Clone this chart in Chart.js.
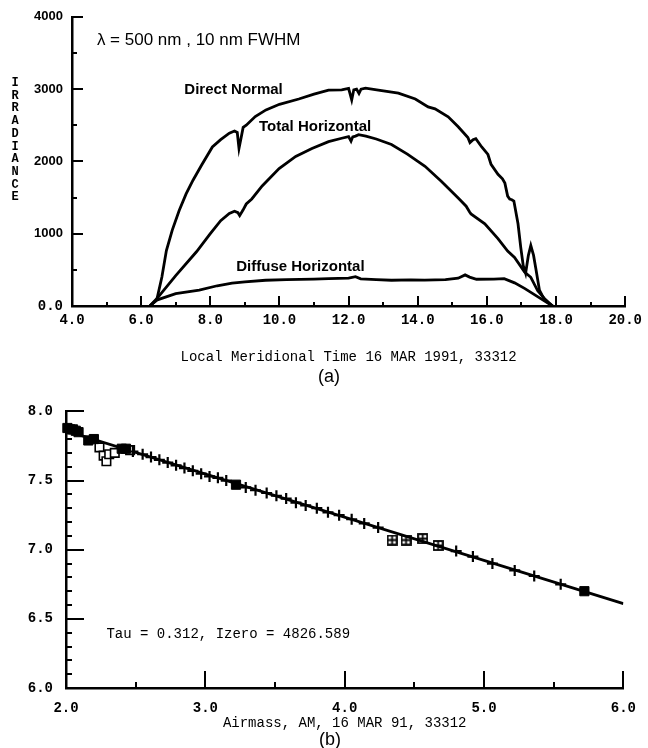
<!DOCTYPE html>
<html>
<head>
<meta charset="utf-8">
<script src="https://cdn.jsdelivr.net/npm/chart.js@4.4.1/dist/chart.umd.min.js"></script>
<style>
  body { margin: 0; background: #fff; }
  #wrapA { position: absolute; left: 0; top: 0; }
  #wrapB { position: absolute; left: 0; top: 390px; }
</style>
</head>
<body>
<div id="wrapA"><canvas id="chartA" width="648" height="390"></canvas></div>
<div id="wrapB"><canvas id="chartB" width="648" height="358"></canvas></div>
<script>
// ---- (a) irradiance vs local time ----
const timeTicks = [4, 6, 8, 10, 12, 14, 16, 18, 20];
const timeMinor = [5, 7, 9, 11, 13, 15, 17, 19];
const irrTicks = [0, 1000, 2000, 3000, 4000];
const irrMinor = [500, 1500, 2500, 3500];

const directTime = [6.25, 6.45, 6.6, 6.73, 6.9, 7.1, 7.3, 7.5, 7.75, 8.06, 8.3, 8.55, 8.7, 8.78, 8.83, 8.88, 8.95,
  9.04, 9.3, 9.61, 10.0, 10.56, 11.0, 11.42, 11.8, 12.0, 12.09, 12.15, 12.23, 12.3, 12.36, 12.49, 12.86, 13.44,
  13.93, 14.3, 14.5, 14.88, 15.17, 15.45, 15.51, 15.6, 15.68, 15.85, 16.03, 16.12, 16.32, 16.45, 16.52, 16.6,
  16.66, 16.72, 16.78, 16.9, 16.98, 17.05, 17.12, 17.2, 17.27, 17.35, 17.41, 17.52, 17.67, 17.9];
const directIrr = [0, 82, 400, 767, 1050, 1320, 1550, 1740, 1950, 2200, 2300, 2390, 2420, 2400, 2180, 2300, 2470,
  2500, 2620, 2712, 2790, 2863, 2930, 2986, 2990, 3010, 2850, 2990, 3000, 2940, 3000, 3014, 2986, 2945,
  2863, 2753, 2726, 2616, 2479, 2330, 2260, 2300, 2315, 2200, 2096, 1959, 1822, 1760, 1700, 1520,
  1479, 1470, 1452, 1137, 808, 560, 452, 700, 836, 700, 534, 219, 82, 0];

const totalTime = [6.25, 6.45, 7.0, 7.6, 8.0, 8.3, 8.55, 8.7, 8.8, 8.85, 8.95, 9.04, 9.2, 9.5, 9.99, 10.47, 10.94,
  11.42, 11.8, 12.0, 12.07, 12.12, 12.2, 12.29, 12.5, 12.8, 13.24, 13.7, 14.21, 14.68, 15.17, 15.4, 15.5,
  15.54, 15.94, 16.32, 16.6, 16.8, 17.09, 17.27, 17.47, 17.67, 17.9];
const totalIrr = [0, 100, 420, 750, 1000, 1180, 1280, 1310, 1290, 1250, 1330, 1411, 1480, 1660, 1900, 2068, 2178,
  2274, 2320, 2342, 2280, 2340, 2350, 2370, 2350, 2310, 2233, 2100, 1932, 1726, 1493, 1380, 1300,
  1274, 1137, 931, 760, 671, 470, 397, 210, 100, 0];

const diffuseTime = [6.25, 6.45, 7.0, 7.68, 8.2, 8.63, 9.0, 9.6, 10.2, 11.0, 11.42, 12.0, 12.2, 12.35, 12.8, 13.24,
  13.8, 14.2, 14.8, 15.17, 15.37, 15.5, 15.7, 16.2, 16.5, 16.8, 17.1, 17.5, 17.9];
const diffuseIrr = [0, 82, 170, 219, 280, 315, 335, 356, 365, 372, 378, 385, 405, 375, 365, 356,
  360, 358, 365, 384, 430, 400, 370, 372, 378, 320, 240, 120, 0];

// ---- (b) Langley plot ----
const amTicks = [2, 3, 4, 5, 6];
const amMinor = [2.5, 3.5, 4.5, 5.5];
const lnTicks = [6.0, 6.5, 7.0, 7.5, 8.0];
const lnMinor = [6.1, 6.2, 6.3, 6.4, 6.6, 6.7, 6.8, 6.9, 7.1, 7.2, 7.3, 7.4, 7.6, 7.7, 7.8, 7.9];

const plusAM = [2.48, 2.55, 2.61, 2.67, 2.73, 2.79, 2.85, 2.91, 2.97, 3.03, 3.09, 3.15, 3.29, 3.36, 3.44, 3.51,
  3.58, 3.65, 3.72, 3.80, 3.88, 3.96, 4.05, 4.14, 4.24, 4.80, 4.92, 5.06, 5.22, 5.36, 5.55];
const plusLn = [7.71, 7.69, 7.67, 7.65, 7.63, 7.61, 7.59, 7.57, 7.55, 7.53, 7.52, 7.50, 7.45, 7.43, 7.41, 7.39,
  7.37, 7.34, 7.32, 7.30, 7.27, 7.25, 7.22, 7.19, 7.16, 6.99, 6.95, 6.90, 6.85, 6.81, 6.75];
const filledAM = [2.01, 2.03, 2.05, 2.07, 2.09, 2.16, 2.20, 2.40, 2.43, 3.22, 5.72];
const filledLn = [7.88, 7.87, 7.87, 7.86, 7.85, 7.79, 7.80, 7.73, 7.73, 7.47, 6.70];
const openAM = [2.24, 2.27, 2.29, 2.31, 2.35, 2.46];
const openLn = [7.74, 7.68, 7.64, 7.69, 7.70, 7.72];
const boxAM = [4.34, 4.44, 4.56, 4.67];
const boxLn = [7.07, 7.07, 7.08, 7.03];
const fitAM = [2.0, 6.0];
const fitLn = [7.86, 6.61];

function toXY(xs, ys) {
  return xs.map((x, i) => ({ x: x, y: ys[i] }));
}

const SANS = '"Liberation Sans", Arial, sans-serif';
const MONO = '"Liberation Mono", "Courier New", monospace';

// tick marks drawn inward from the axes
const innerTicks = {
  id: 'innerTicks',
  afterDraw(chart, args, opts) {
    const { ctx, chartArea } = chart;
    ctx.save();
    ctx.strokeStyle = '#000';
    ctx.lineWidth = 2;
    opts.marks.forEach(m => {
      const scale = chart.scales[m.axis];
      m.values.forEach(v => {
        const p = Math.round(scale.getPixelForValue(v));
        ctx.beginPath();
        if (m.axis === 'x') {
          ctx.moveTo(p, chartArea.bottom);
          ctx.lineTo(p, chartArea.bottom - m.len);
        } else {
          ctx.moveTo(chartArea.left, p);
          ctx.lineTo(chartArea.left + m.len, p);
        }
        ctx.stroke();
      });
    });
    ctx.restore();
  }
};

// free text labels inside the figure
const notes = {
  id: 'notes',
  afterDraw(chart, args, opts) {
    const ctx = chart.ctx;
    ctx.save();
    ctx.fillStyle = '#000';
    ctx.textBaseline = 'middle';
    opts.items.forEach(n => {
      ctx.font = n.font;
      ctx.textAlign = n.align || 'left';
      const x = n.px != null ? n.px : chart.scales.x.getPixelForValue(n.x);
      const y = n.py != null ? n.py : chart.scales.y.getPixelForValue(n.y);
      ctx.fillText(n.text, x, y);
    });
    ctx.restore();
  }
};

function lineSet(xs, ys) {
  return {
    data: toXY(xs, ys),
    borderColor: '#000',
    borderWidth: 2.8,
    pointRadius: 0,
    tension: 0,
    fill: false
  };
}

const axisBorder = { display: true, color: '#000', width: 2.5 };

// IRRADIANCE written as stacked letters
const irrLetters = 'IRRADIANCE'.split('').map((c, i) => ({
  text: c, px: 15, py: 83 + i * 12.7, font: 'bold 12px ' + MONO, align: 'center'
}));

new Chart(document.getElementById('chartA'), {
  type: 'line',
  data: {
    datasets: [
      lineSet(directTime, directIrr),
      lineSet(totalTime, totalIrr),
      lineSet(diffuseTime, diffuseIrr)
    ]
  },
  options: {
    responsive: false,
    animation: false,
    layout: { padding: { left: 0, top: 14, right: 20, bottom: 0 } },
    plugins: {
      legend: { display: false },
      tooltip: { enabled: false },
      innerTicks: {
        marks: [
          { axis: 'x', values: timeTicks, len: 10 },
          { axis: 'x', values: timeMinor, len: 4 },
          { axis: 'y', values: irrTicks, len: 11 },
          { axis: 'y', values: irrMinor, len: 5 }
        ]
      },
      notes: {
        items: [
          { text: '\u03bb = 500 nm , 10 nm FWHM', x: 4.72, y: 3671, font: '17px ' + SANS },
          { text: 'Direct Normal', x: 7.25, y: 2986, font: 'bold 15px ' + SANS },
          { text: 'Total Horizontal', x: 9.41, y: 2480, font: 'bold 15px ' + SANS },
          { text: 'Diffuse Horizontal', x: 8.75, y: 548, font: 'bold 15px ' + SANS },
          { text: '(a)', px: 329, py: 377, font: '18px ' + SANS, align: 'center' }
        ].concat(irrLetters)
      }
    },
    scales: {
      x: {
        type: 'linear',
        min: 4,
        max: 20,
        grid: { display: false, drawTicks: false },
        border: axisBorder,
        ticks: {
          stepSize: 2,
          padding: 6,
          color: '#000',
          autoSkip: false,
          maxRotation: 0,
          font: { family: MONO, size: 14, weight: 'bold' },
          callback: v => v.toFixed(1)
        },
        title: {
          display: true,
          text: 'Local Meridional Time 16 MAR 1991, 33312',
          color: '#000',
          font: { family: MONO, size: 14 },
          padding: { top: 0, bottom: 24.6 }
        },
        afterFit: s => { s.height = 84; }
      },
      y: {
        type: 'linear',
        min: 0,
        max: 4000,
        grid: { display: false, drawTicks: false },
        border: axisBorder,
        ticks: {
          stepSize: 1000,
          padding: 9,
          color: '#000',
          font: c => (c.tick && c.tick.value === 0)
            ? { family: MONO, size: 14, weight: 'bold' }
            : { family: SANS, size: 13, weight: 'bold' },
          callback: v => v === 0 ? '0.0' : String(v)
        },
        afterFit: s => { s.width = 72; }
      }
    }
  },
  plugins: [innerTicks, notes]
});

// square with a cross inside, used for a few points in (b)
const boxMark = document.createElement('canvas');
boxMark.width = 11;
boxMark.height = 11;
(function () {
  const g = boxMark.getContext('2d');
  g.strokeStyle = '#000';
  g.lineWidth = 1.8;
  g.strokeRect(1, 1, 9, 9);
  g.beginPath();
  g.moveTo(5.5, 1); g.lineTo(5.5, 10);
  g.moveTo(1, 5.5); g.lineTo(10, 5.5);
  g.stroke();
})();

function markSet(xs, ys, style) {
  return Object.assign({
    data: toXY(xs, ys),
    showLine: false,
    borderColor: '#000',
    clip: false
  }, style);
}

new Chart(document.getElementById('chartB'), {
  type: 'line',
  data: {
    datasets: [
      markSet(plusAM, plusLn, { pointStyle: 'cross', pointRadius: 5.5, borderWidth: 2.2 }),
      markSet(filledAM, filledLn, { pointStyle: 'rect', pointRadius: 6.5, borderWidth: 1, backgroundColor: '#000' }),
      markSet(openAM, openLn, { pointStyle: 'rect', pointRadius: 6, borderWidth: 1.6, backgroundColor: '#fff' }),
      markSet(boxAM, boxLn, { pointStyle: boxMark, pointRadius: 6 }),
      lineSet(fitAM, fitLn)
    ]
  },
  options: {
    responsive: false,
    animation: false,
    layout: { padding: { left: 0, top: 20, right: 23, bottom: 0 } },
    plugins: {
      legend: { display: false },
      tooltip: { enabled: false },
      innerTicks: {
        marks: [
          { axis: 'x', values: amTicks, len: 17 },
          { axis: 'x', values: amMinor, len: 6 },
          { axis: 'y', values: lnTicks, len: 18 },
          { axis: 'y', values: lnMinor, len: 6 }
        ]
      },
      notes: {
        items: [
          { text: 'Tau = 0.312, Izero = 4826.589', x: 2.29, y: 6.39, font: '14px ' + MONO },
          { text: '(b)', px: 330, py: 350, font: '18px ' + SANS, align: 'center' }
        ]
      }
    },
    scales: {
      x: {
        type: 'linear',
        min: 2,
        max: 6,
        grid: { display: false, drawTicks: false },
        border: axisBorder,
        ticks: {
          stepSize: 1,
          padding: 12,
          color: '#000',
          autoSkip: false,
          maxRotation: 0,
          font: { family: MONO, size: 14, weight: 'bold' },
          callback: v => v.toFixed(1)
        },
        title: {
          display: true,
          text: 'Airmass, AM, 16 MAR 91, 33312',
          color: '#000',
          font: { family: MONO, size: 14 },
          padding: { top: 0, bottom: 16.6 }
        },
        afterFit: s => { s.height = 60; }
      },
      y: {
        type: 'linear',
        min: 6,
        max: 8,
        grid: { display: false, drawTicks: false },
        border: axisBorder,
        ticks: {
          stepSize: 0.5,
          padding: 13,
          color: '#000',
          font: { family: MONO, size: 14, weight: 'bold' },
          callback: v => v.toFixed(1)
        },
        afterFit: s => { s.width = 66; }
      }
    }
  },
  plugins: [innerTicks, notes]
});
</script>
</body>
</html>
